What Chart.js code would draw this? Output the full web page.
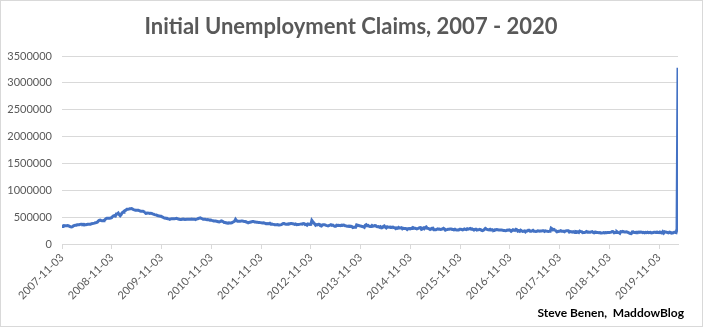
<!DOCTYPE html>
<html>
<head>
<meta charset="utf-8">
<title>Initial Unemployment Claims</title>
<script src="https://cdn.jsdelivr.net/npm/chart.js@4.4.1/dist/chart.umd.min.js"></script>
<style>
  html, body { margin:0; padding:0; background:#fff; }
  #wrap { position:absolute; left:0; top:0; width:703px; height:327px; box-sizing:border-box; border:1px solid #d9d9d9; background:#fff; }
  canvas { display:block; }
</style>
</head>
<body>
<div id="wrap"><canvas id="chart" width="701" height="325"></canvas></div>
<script>
const chartTitle = 'Initial Unemployment Claims, 2007 - 2020';
const sourceNote = 'Steve Benen,  MaddowBlog';

// weeks end on Saturdays, first one is 2007-11-03
const firstWeek = '2007-11-03';
const xTickLabels = ['2007-11-03','2008-11-03','2009-11-03','2010-11-03','2011-11-03','2012-11-03',
  '2013-11-03','2014-11-03','2015-11-03','2016-11-03','2017-11-03','2018-11-03','2019-11-03'];

// weekly initial claims, in thousands (seasonally adjusted)
const claims2007 = [327,335,342,340,338,340,344,338,328];
const claims2008 = [320,318,322,340, 345,348,350,358, 360,358,365,368,368, 362,366,360,358, 362,366,368,370,370, 378,380,384,388,
  395,398,405,425, 440,445,438,432,434, 442,452,470,480, 478,478,480,482, 490,510,522,528,520, 560,560,575,545];
const claims2009 = [525,545,580,590,610, 622,630,645,645, 650,655,658,660, 652,640,635,628, 628,630,628,622,615, 610,608,610,600,
  590,570,572,578, 575,568,572,570,562, 555,548,542,540, 530,525,522,515,515, 505,498,485,482, 480,478,470,468];
const claims2010 = [460,468,470,472,472, 470,472,478,472, 465,460,458,455, 460,465,460,455, 455,460,462,462,460, 462,465,462,460,
  462,455,462,468,475, 482,486,478,470, 462,460,462,458, 452,455,450,445,448, 440,435,428,430, 428,424,420,415];
const claims2011 = [410,420,430,425,415, 400,402,398,392, 392,394,390,390, 395,405,415,425,460, 435,425,424,424, 425,426,426,425,
  420,418,415,405,402, 400,405,410,415, 418,420,410,408, 404,404,402,400,398, 394,392,394,392, 385,378,376,380,378];
const claims2012 = [385,370,372,368, 365,360,358,360, 362,355,352,356,360, 372,380,382,372, 370,370,372,375, 376,380,382,376,374,
  365,372,360,364, 362,366,370,372, 368,380,378,362,366, 350,372,368,364, 365,439,415,393, 375,350,360,355,368];
const claims2013 = [365,340,335,355, 360,358,356,348, 342,338,338,350,358, 348,352,340,330, 330,350,345,350, 346,340,350,345,352,
  350,340,338,330, 332,325,332,330,325, 305,310,310,310, 355,350,345,340, 336,330,325,320,310, 350,360,340,345];
const claims2014 = [331,326,329,345, 331,336,342,340, 323,320,323,311,322, 302,305,325,335, 313,300,320,312,314, 316,311,314,315,
  304,302,288,300, 292,308,298,298,302, 282,292,289,289, 286,270,285,286, 280,288,296,308,298, 295,289,282,287];
const claims2015 = [294,302,305,272,279, 298,285,308,318, 293,291,282,270, 280,292,294,265, 266,266,274,282,276, 278,270,272,280,
  292,280,258,268, 270,274,276,280,280, 275,268,268,275, 264,262,260,261,274, 274,270,262,268, 280,272,268,284];
const claims2016 = [277,282,290,278,282, 270,264,272,276, 260,265,265,274, 267,255,250,257,272, 290,278,268,267, 264,275,260,268,
  256,255,265,265,268, 265,262,261,259, 260,258,252,250, 248,249,260,258,263, 254,238,251,265, 258,255,272,264,240];
const claims2017 = [247,236,257,246, 236,239,243,226, 243,241,256,257, 236,236,244,255,238, 237,234,235,246, 244,238,241,244,
  246,246,234,244,240, 236,233,235,236, 296,284,262,270,260, 244,226,233,238, 239,247,239,238, 236,228,244,245,248];
const claims2018 = [248,222,233,230, 222,229,222,212, 230,227,228,216,240, 232,231,210,212, 214,222,232,221, 222,218,219,226,230,
  215,208,217,218, 213,212,211,213, 205,203,207,213,208, 214,210,214,214, 214,216,223,233, 230,208,214,216,229];
const claims2019 = [216,212,200,232, 230,234,226,224, 223,226,221,212,203, 197,194,224,226, 212,212,211,218, 219,221,216,224,221,
  210,216,207,217, 210,219,211,215,217, 205,208,213,218, 219,214,212,217, 211,224,213,205,228, 205,228,222,220];
const claims2020 = [211,207,222,216, 202,206,210,219,217, 211,282,3283];

const DAY = 86400000;
const dayOf = s => { const [y,m,d] = s.split('-').map(Number); return Date.UTC(y, m-1, d) / DAY; };
const day0 = dayOf(firstWeek);

const weekly = [].concat(claims2007, claims2008, claims2009, claims2010, claims2011, claims2012, claims2013,
  claims2014, claims2015, claims2016, claims2017, claims2018, claims2019, claims2020);
const points = weekly.map((v, i) => ({ x: i*7, y: v*1000 }));
const tickDays = xTickLabels.map(s => dayOf(s) - day0);

const textPlugin = {
  id: 'texts',
  afterDraw(chart){
    const ctx = chart.ctx;
    ctx.save();
    ctx.fillStyle = '#595959';
    ctx.font = 'bold 22px Lato';
    ctx.textAlign = 'center';
    ctx.textBaseline = 'alphabetic';
    ctx.fillText(chartTitle, 350, 33);
    ctx.fillStyle = '#000';
    ctx.font = 'bold 12px Lato';
    ctx.textAlign = 'right';
    ctx.fillText(sourceNote, 683, 316);
    ctx.restore();
  }
};

new Chart(document.getElementById('chart'), {
  type: 'line',
  data: { datasets: [{ data: points, borderColor: '#4472C4', borderWidth: 3, pointRadius: 0, tension: 0, fill: false }] },
  options: {
    responsive: false, animation: false, events: [],
    layout: { padding: { top: 55, right: 24, bottom: 0, left: 0 } },
    plugins: { legend: { display: false }, title: { display: false }, tooltip: { enabled: false } },
    scales: {
      x: {
        type: 'linear', min: 0, max: points[points.length-1].x,
        afterBuildTicks: s => { s.ticks = tickDays.map(v => ({ value: v })); },
        afterFit: s => { s.height = 82; },
        grid: { drawOnChartArea: false, drawTicks: true, tickLength: 5, color: '#d9d9d9' },
        border: { color: '#d9d9d9' },
        ticks: { autoSkip: false, minRotation: 45, maxRotation: 45, padding: 2, color: '#595959',
          font: { family: 'Lato', size: 11 }, callback: (v, i) => xTickLabels[i] }
      },
      y: {
        min: 0, max: 3500000,
        afterFit: s => { s.width = 61; },
        grid: { color: '#d9d9d9', drawTicks: false },
        border: { display: false },
        ticks: { stepSize: 500000, padding: 10, color: '#595959',
          font: { family: 'Lato', size: 11 }, callback: v => String(v) }
      }
    }
  },
  plugins: [textPlugin]
});
</script>
</body>
</html>
